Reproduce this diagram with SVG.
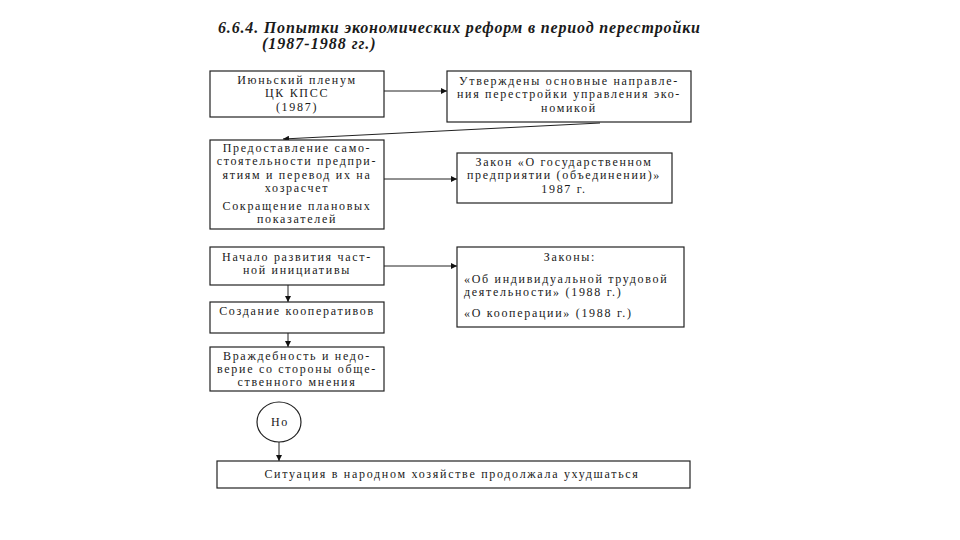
<svg xmlns="http://www.w3.org/2000/svg" width="960" height="540" viewBox="0 0 960 540">
<style>
.box{fill:#fff;stroke:#222;stroke-width:1.2}
.t{font-family:"Liberation Serif","Times New Roman",serif;font-size:12px;fill:#1a1a1a;letter-spacing:1.7px}
.c{text-anchor:middle}
.ttl{font-family:"Liberation Serif","Times New Roman",serif;font-size:16px;font-weight:bold;font-style:italic;fill:#1a1a1a}
.ln{fill:none;stroke:#222;stroke-width:1}
</style>
<defs>
<marker id="ah" viewBox="0 0 10 10" refX="10" refY="5" markerWidth="8" markerHeight="6" orient="auto" markerUnits="userSpaceOnUse">
<path d="M0,0 L10,5 L0,10 z" fill="#111"/>
</marker>
</defs>
<rect width="960" height="540" fill="#fff"/>
<g id="title">
<text class="ttl" x="218" y="33" textLength="482">6.6.4. Попытки экономических реформ в период перестройки</text>
<text class="ttl" x="262" y="49" letter-spacing="1">(1987-1988 гг.)</text>
</g>
<g id="connectors">
<line class="ln" x1="384" y1="91" x2="447" y2="91" marker-end="url(#ah)"/>
<line class="ln" x1="600" y1="123" x2="283" y2="139" stroke-width="1.6" marker-end="url(#ah)"/>
<line class="ln" x1="384" y1="179" x2="457" y2="179" stroke="#888" marker-end="url(#ah)"/>
<line class="ln" x1="384" y1="266" x2="457" y2="266" stroke="#666" marker-end="url(#ah)"/>
<line class="ln" x1="288" y1="285" x2="288" y2="302" marker-end="url(#ah)"/>
<line class="ln" x1="288" y1="333" x2="288" y2="347" marker-end="url(#ah)"/>
<line class="ln" x1="279" y1="442" x2="279" y2="461" marker-end="url(#ah)"/>
</g>
<g id="n1">
<rect class="box" x="210" y="71" width="174" height="46"/>
<text class="t c" x="297" y="84">Июньский пленум</text>
<text class="t c" x="297" y="97.4">ЦК КПСС</text>
<text class="t c" x="297" y="110.8">(1987)</text>
</g>
<g id="n2">
<rect class="box" x="447" y="71" width="244" height="51"/>
<text class="t c" x="569" y="85">Утверждены основные направле-</text>
<text class="t c" x="569" y="98.4">ния перестройки управления эко-</text>
<text class="t c" x="569" y="111.8">номикой</text>
</g>
<g id="n3">
<rect class="box" x="210" y="140" width="174" height="89"/>
<text class="t c" x="297" y="152">Предоставление само-</text>
<text class="t c" x="297" y="165.4">стоятельности предпри-</text>
<text class="t c" x="297" y="178.8">ятиям и перевод их на</text>
<text class="t c" x="297" y="192.2">хозрасчет</text>
<text class="t c" x="297" y="210">Сокращение плановых</text>
<text class="t c" x="297" y="223.4">показателей</text>
</g>
<g id="n4">
<rect class="box" x="457" y="153" width="215" height="50"/>
<text class="t c" x="564" y="166">Закон «О государственном</text>
<text class="t c" x="564" y="179.4">предприятии (объединении)»</text>
<text class="t c" x="564" y="192.8">1987 г.</text>
</g>
<g id="n5">
<rect class="box" x="210" y="247" width="174" height="38"/>
<text class="t c" x="297" y="261">Начало развития част-</text>
<text class="t c" x="297" y="274.4">ной инициативы</text>
</g>
<g id="n6">
<rect class="box" x="457" y="247" width="227" height="80"/>
<text class="t c" x="570" y="261">Законы:</text>
<text class="t" x="464" y="283">«Об индивидуальной трудовой</text>
<text class="t" x="464" y="296.4">деятельности» (1988 г.)</text>
<text class="t" x="464" y="317">«О кооперации» (1988 г.)</text>
</g>
<g id="n7">
<rect class="box" x="210" y="302" width="174" height="31"/>
<text class="t c" x="297" y="315">Создание кооперативов</text>
</g>
<g id="n8">
<rect class="box" x="210" y="347" width="174" height="44"/>
<text class="t c" x="297" y="359.5">Враждебность и недо-</text>
<text class="t c" x="297" y="372.9">верие со стороны обще-</text>
<text class="t c" x="297" y="386.3">ственного мнения</text>
</g>
<g id="n9">
<ellipse class="box" cx="279" cy="422" rx="22" ry="20"/>
<text class="t c" x="280" y="426">Но</text>
</g>
<g id="n10">
<rect class="box" x="217" y="461" width="473" height="27"/>
<text class="t c" x="452" y="478">Ситуация в народном хозяйстве продолжала ухудшаться</text>
</g>
</svg>
